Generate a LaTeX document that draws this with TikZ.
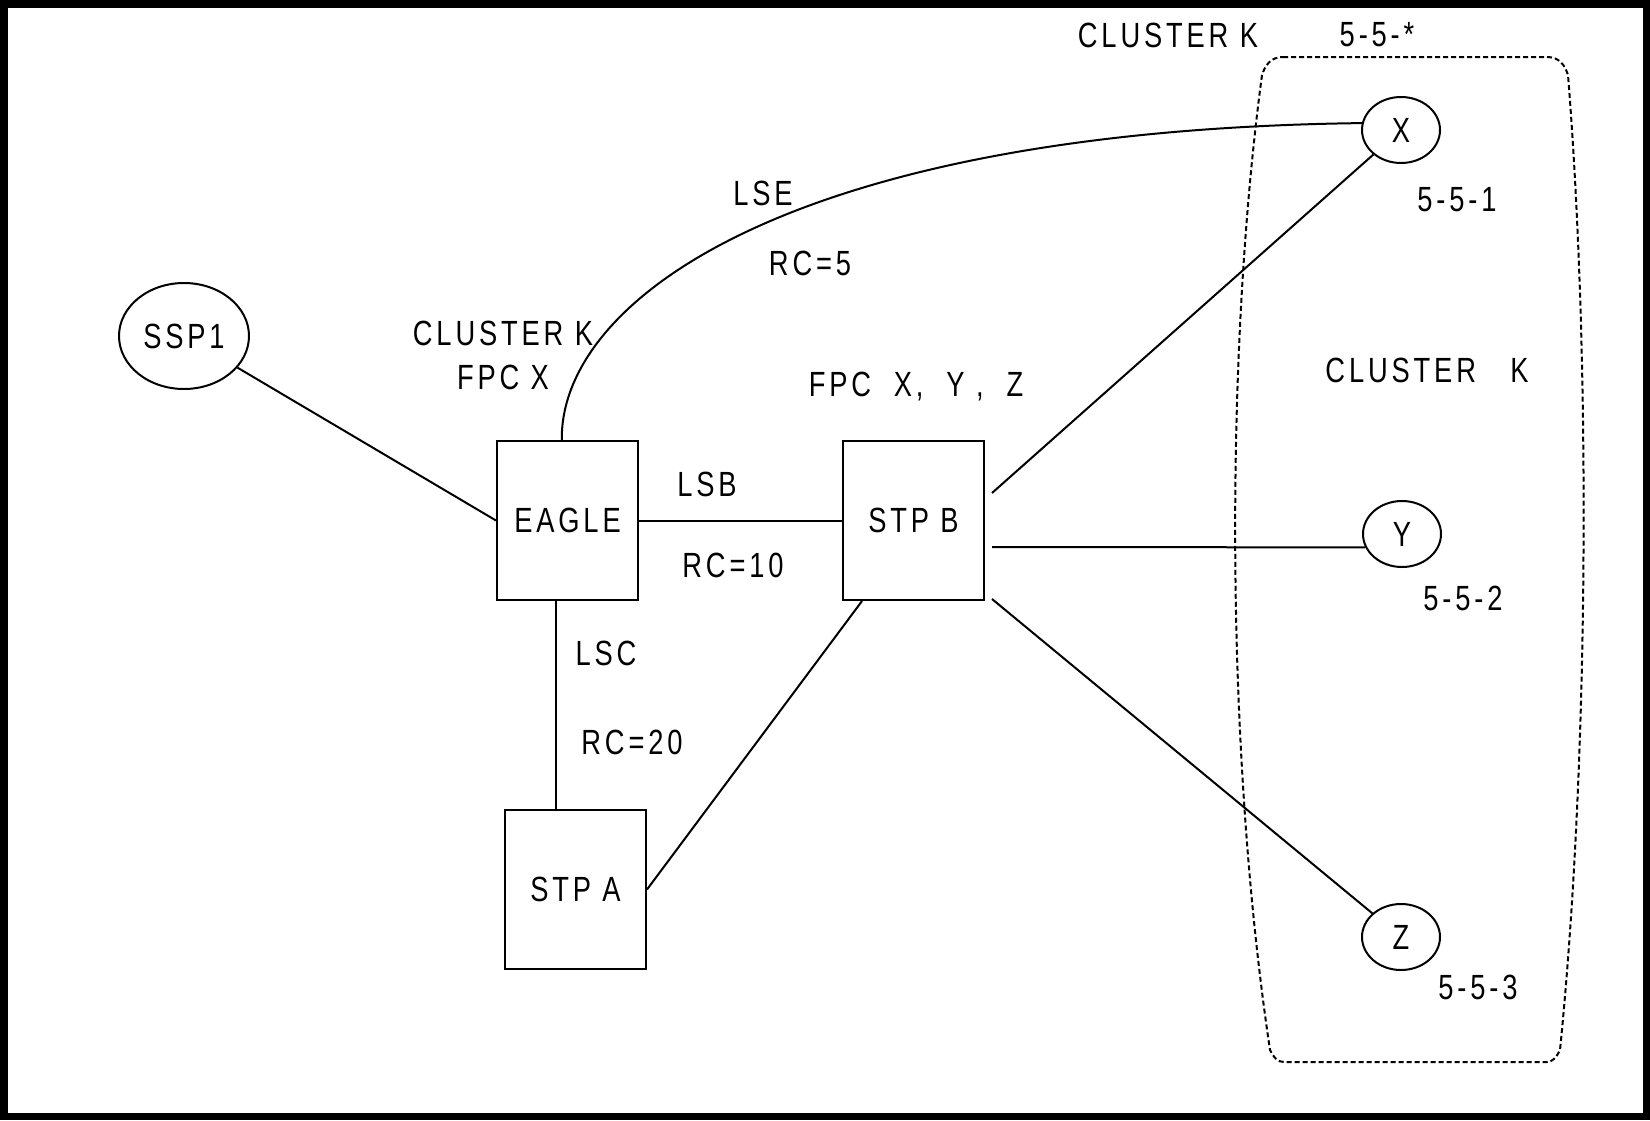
\documentclass[tikz,border=0pt]{standalone}
\usepackage{fontspec}
\setmainfont{Liberation Sans}[FakeStretch=0.78,LetterSpace=11]
\usetikzlibrary{shapes.geometric,calc}
\begin{document}
\begin{tikzpicture}[x=0.5pt,y=-0.5pt,
  every node/.style={font=\fontsize{17.5}{20}\selectfont, inner sep=0pt},
  box/.style={draw, line width=1pt, minimum width=70.5pt, minimum height=79.5pt},
  oval/.style={draw, ellipse, line width=1pt, minimum width=39pt, minimum height=33pt},
  conn/.style={line width=1pt},
  clusterline/.style={line width=1pt, dash pattern=on 2.5pt off 1.5pt}]
\useasboundingbox (0,0) rectangle (1650,1120);
\draw[line width=3.75pt] (3.75,3.75) rectangle (1646.25,1116.25);

% nodes
\node[oval, minimum width=65pt, minimum height=53pt] (ssp1) at (184,336) {SSP1};
\node[box] (eagle) at (567.5,520.5) {EAGLE};
\node[box] (stpb) at (913.5,520.5) {STP B};
\node[box] (stpa) at (575.5,889.5) {STP A};
\node[oval] (x) at (1401,130) {X};
\node[oval] (y) at (1402,534) {Y};
\node[oval] (z) at (1401,937) {Z};

% labels
\node (lse) at (763,193) {LSE};
\node (rc5) at (810,263) {RC=5};
\node (lsb) at (707,484) {LSB};
\node (rc10) at (733,565) {RC=10};
\node (lsc) at (606,653) {LSC};
\node (rc20) at (632,742) {RC=20};
\node (ckl) at (503,333) {CLUSTER K};
\node (fpcx) at (503,377) {FPC X};
\node (fpcxyz) at (916,387) {FPC\ \ X,\ \ Y ,\ \ Z};
\node (cktop) at (1168,35) {CLUSTER K};
\node (k55) at (1377,35) {5-5-*};
\node (ckr) at (1427,370) {CLUSTER\ \ \ K};
\node (k551) at (1457,200) {5-5-1};
\node (k552) at (1463,598) {5-5-2};
\node (k553) at (1478,987) {5-5-3};

% connectors
\draw[conn] (ssp1) -- (eagle.west);
\coordinate (etop) at ($(eagle.north west)!0.46!(eagle.north east)$);
\draw[conn] (etop) .. controls (560,300) and (790,130) .. (x.170);
\draw[conn] (eagle.east) -- (stpb.west);
\coordinate (ebot) at ($(eagle.south west)!0.418!(eagle.south east)$);
\draw[conn] (ebot) -- (ebot |- stpa.north);
\coordinate (bbot) at ($(stpb.south west)!0.14!(stpb.south east)$);
\draw[conn] (stpa.east) -- (bbot);
\coordinate (bx) at (992,493);
\coordinate (by) at (992,547);
\coordinate (bz) at (992,599);
\draw[conn] (bx) -- (x);
\draw[conn] (by) -- (y.200);
\draw[conn] (bz) -- (z);

% cluster outline
\draw[clusterline] (1283,57) -- (1547,57)
  .. controls (1560,57) and (1565,66) .. (1568,75)
  .. controls (1590,350) and (1590,750) .. (1560,1050)
  .. controls (1556,1058) and (1552,1062) .. (1547,1062)
  -- (1284,1062)
  .. controls (1278,1062) and (1274,1058) .. (1270,1050)
  .. controls (1225,750) and (1225,350) .. (1262,75)
  .. controls (1265,66) and (1270,57) .. (1283,57) -- cycle;
\end{tikzpicture}
\end{document}
